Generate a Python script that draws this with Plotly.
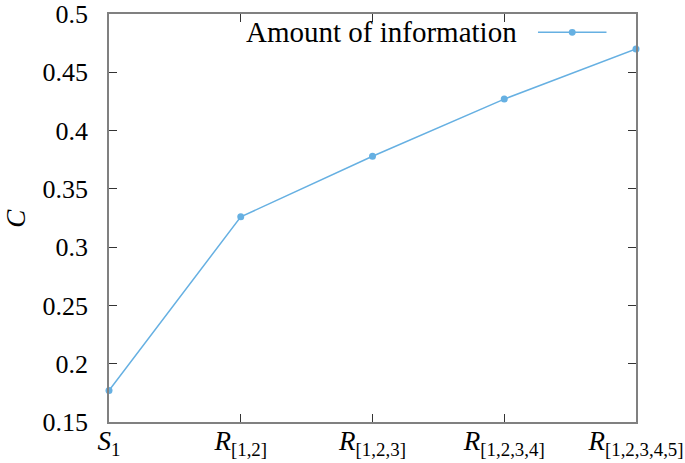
import plotly.graph_objects as go

categories = ["<i>S</i><sub>1</sub>", "<i>R</i><sub>[1,2]</sub>", "<i>R</i><sub>[1,2,3]</sub>",
              "<i>R</i><sub>[1,2,3,4]</sub>", "<i>R</i><sub>[1,2,3,4,5]</sub>"]
values = [0.177, 0.326, 0.378, 0.427, 0.470]
series_name = "Amount of information"
y_title = "<i>C</i>"
y_ticks = [0.15, 0.2, 0.25, 0.3, 0.35, 0.4, 0.45, 0.5]
y_ticktext = ["0.15", "0.2", "0.25", "0.3", "0.35", "0.4", "0.45", "0.5"]

color = "#66b0e2"
font = "Liberation Serif"
xs = list(range(len(categories)))

fig = go.Figure()
fig.add_trace(go.Scatter(x=xs, y=values, mode="lines+markers",
                         line=dict(color=color, width=1.5),
                         marker=dict(color=color, size=7),
                         showlegend=False, cliponaxis=False))

# legend drawn like gnuplot: text then sample
fig.add_annotation(xref="paper", yref="paper", x=0.778, y=0.955, xanchor="right", yanchor="middle",
                   text=series_name, showarrow=False, font=dict(family=font, size=29, color="black"))
fig.add_shape(type="line", xref="paper", yref="paper", x0=0.814, x1=0.944, y0=0.955, y1=0.955,
              line=dict(color=color, width=1.5))
fig.add_shape(type="circle", xref="paper", yref="paper", x0=0.879 - 0.0066, x1=0.879 + 0.0066,
              y0=0.955 - 0.0085, y1=0.955 + 0.0085, fillcolor=color, line=dict(width=0))

# y-axis title
fig.add_annotation(xref="paper", yref="paper", x=-0.177, y=0.5, xanchor="center", yanchor="middle",
                   text=y_title, textangle=-90, showarrow=False,
                   font=dict(family=font, size=27, color="black"))

fig.update_layout(
    width=685, height=463,
    margin=dict(l=109, r=49, t=14, b=41),
    plot_bgcolor="white", paper_bgcolor="white",
    font=dict(family=font, size=26, color="black"),
)
fig.update_xaxes(range=[0, 4], tickvals=xs, ticktext=categories, showgrid=False, zeroline=False,
                 showline=True, linecolor="#808080", linewidth=1.5, mirror="allticks",
                 ticks="inside", ticklen=8, tickcolor="#333333", tickwidth=1, tickfont=dict(size=27),
                 automargin=False, ticklabelstandoff=-6, ticklabeloverflow="allow")
fig.update_yaxes(range=[0.15, 0.5], tickvals=y_ticks, ticktext=y_ticktext, showgrid=False, zeroline=False,
                 showline=True, linecolor="#808080", linewidth=1.5, mirror="allticks",
                 ticks="inside", ticklen=8, tickcolor="#333333", tickwidth=1, tickfont=dict(size=26),
                 automargin=False, ticklabelstandoff=14, ticklabeloverflow="allow")

fig.write_html("out.html", config={"displayModeBar": False},
               post_script="document.body.style.margin='0';")
